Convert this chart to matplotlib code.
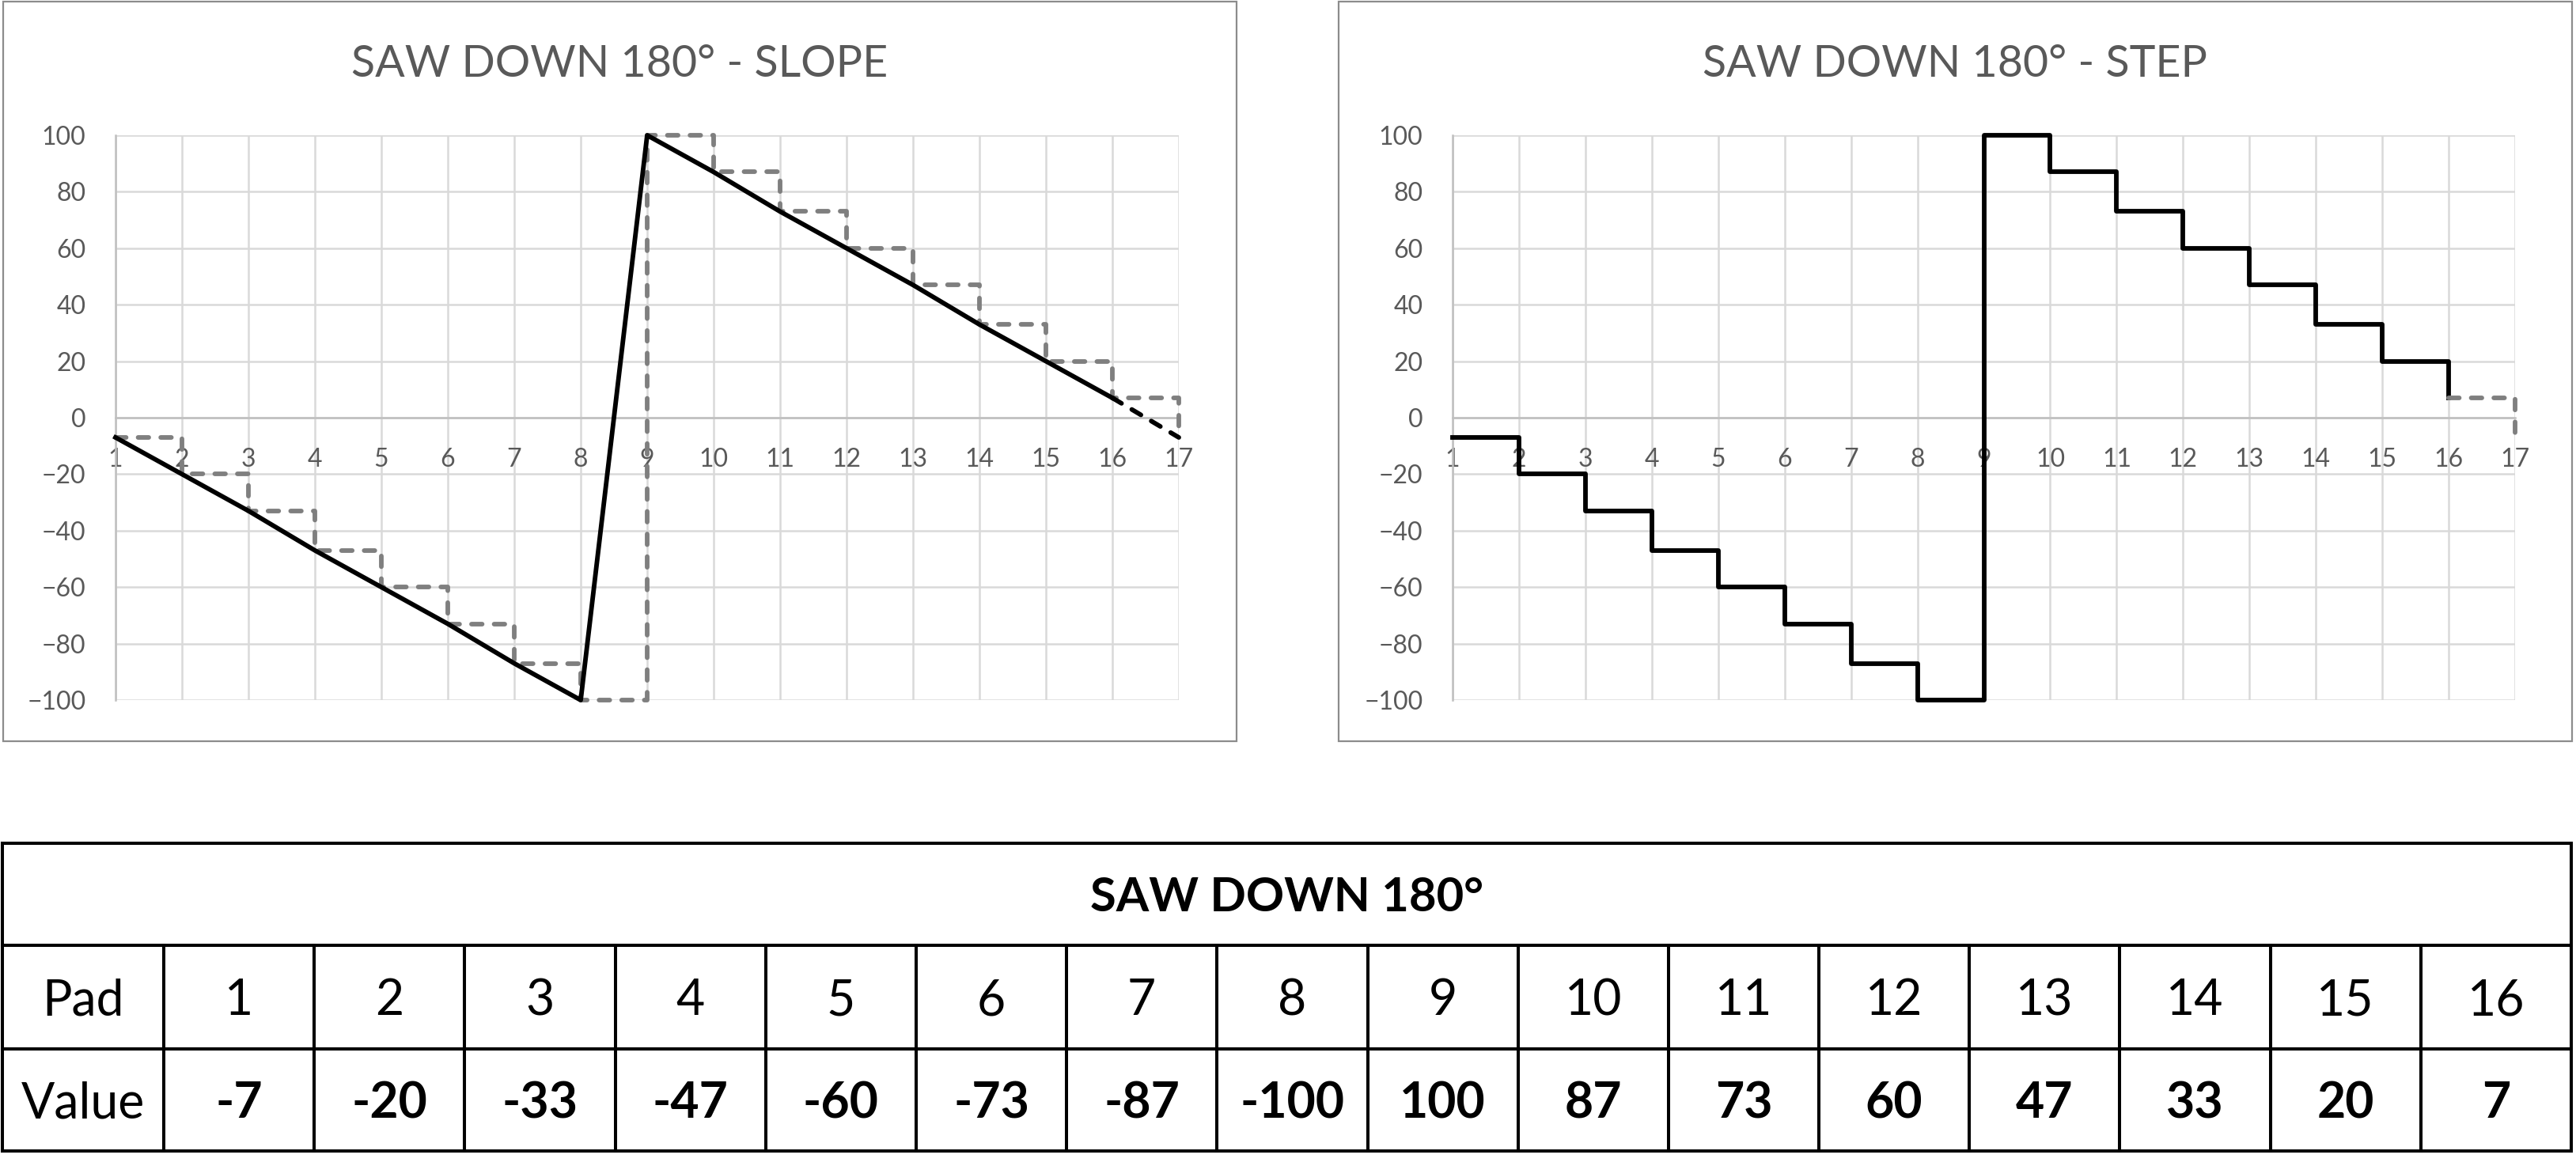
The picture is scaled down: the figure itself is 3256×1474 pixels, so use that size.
import matplotlib
matplotlib.use('Agg')
import matplotlib.pyplot as plt
from matplotlib.patches import Rectangle

# datos
pads = list(range(1, 17))
values = [-7, -20, -33, -47, -60, -73, -87, -100, 100, 87, 73, 60, 47, 33, 20, 7]
x_labels = [str(i) for i in range(1, 18)]
y_ticks = list(range(-100, 101, 20))
chart_titles = ['SAW DOWN 180° - SLOPE', 'SAW DOWN 180° - STEP']
table_title = 'SAW DOWN 180°'
row_names = ['Pad', 'Value']

# vuelta al pad 1 en la posicion 17
x_wrap = pads + [pads[-1] + 1]
v_wrap = values + [values[0]]

############################################################################

W, H = 3256, 1474
DPI = 100
plt.rcParams['font.family'] = ['Lato', 'DejaVu Sans']

GRID = '#d9d9d9'
AXIS = '#bfbfbf'
TXT = '#595959'
GRAY = '#7f7f7f'
LW = 4.2
DASH = (0, (2.3, 2.6))

fig = plt.figure(figsize=(W / DPI, H / DPI), dpi=DPI)

# ejes de fondo en pixeles para cajas y tabla
bg = fig.add_axes([0, 0, 1, 1])
bg.set_xlim(0, W)
bg.set_ylim(H, 0)
bg.axis('off')


def px_axes(l, t, r, b):
    return fig.add_axes([l / W, 1 - b / H, (r - l) / W, (b - t) / H])


boxes = [(4, 2, 1563, 937), (1692, 2, 3251, 937)]
plots = [(146, 171, 1490, 885), (1836, 171, 3179, 885)]


def crear_grafico(box, area, title):
    bg.add_patch(Rectangle((box[0], box[1]), box[2] - box[0], box[3] - box[1],
                           fill=False, ec='#8c8c8c', lw=1.6))
    bg.text((box[0] + box[2]) / 2, 97, title, ha='center', va='baseline',
            fontsize=40, color=TXT)
    ax = px_axes(*area)
    ax.set_xlim(1, 17)
    ax.set_ylim(-100, 100)
    ax.set_xticks(range(1, 18))
    ax.set_xticklabels(x_labels)
    ax.set_yticks(y_ticks)
    ax.grid(True, color=GRID, lw=1.8)
    ax.set_axisbelow(True)
    for s in ax.spines.values():
        s.set_visible(False)
    ax.spines['bottom'].set_position(('data', 0))
    ax.axhline(0, color=AXIS, lw=1.8, zorder=1.5, clip_on=False)
    ax.axvline(1, color=AXIS, lw=1.8, zorder=1.5, clip_on=False)
    ax.tick_params(length=0, labelsize=23, labelcolor=TXT)
    ax.tick_params(axis='x', pad=27)
    ax.tick_params(axis='y', pad=27)
    ax.patch.set_alpha(0)
    return ax


# SLOPE
ax1 = crear_grafico(boxes[0], plots[0], chart_titles[0])
ax1.plot(x_wrap, v_wrap, drawstyle='steps-post', color=GRAY, lw=LW, ls=DASH,
         dash_capstyle='round', clip_on=False)
ax1.plot(pads, values, color='black', lw=LW, clip_on=False)
ax1.plot(x_wrap[-2:], v_wrap[-2:], color='black', lw=LW, ls=DASH,
         dash_capstyle='round', clip_on=False)

# STEP
ax2 = crear_grafico(boxes[1], plots[1], chart_titles[1])
ax2.plot(pads, values, drawstyle='steps-post', color='black', lw=LW, clip_on=False)
ax2.plot(x_wrap[-2:], v_wrap[-2:], drawstyle='steps-post', color=GRAY, lw=LW,
         ls=DASH, dash_capstyle='round', clip_on=False)

############################################################################
# tabla

t_left, t_right = 3, 3250
first_col = 207
row_edges = [1066, 1195, 1326, 1455]
n = len(pads)
col_edges = [t_left, first_col] + [first_col + (t_right - first_col) * (i + 1) / n for i in range(n)]
TLW = 2.9

for y in row_edges:
    bg.plot([t_left, t_right], [y, y], color='black', lw=TLW, solid_capstyle='projecting')
bg.plot([t_left, t_left], [row_edges[0], row_edges[-1]], color='black', lw=TLW)
bg.plot([t_right, t_right], [row_edges[0], row_edges[-1]], color='black', lw=TLW)
for x in col_edges[1:-1]:
    bg.plot([x, x], [row_edges[1], row_edges[-1]], color='black', lw=TLW)

CAP = 45


def baseline(top, bottom):
    return (top + bottom) / 2 + CAP / 2


bg.text((t_left + t_right) / 2, baseline(row_edges[0], row_edges[1]) - 1, table_title,
        ha='center', va='baseline', fontsize=43, fontweight='bold', color='black')

centers = [(col_edges[i] + col_edges[i + 1]) / 2 for i in range(len(col_edges) - 1)]
yb1 = baseline(row_edges[1], row_edges[2])
yb2 = baseline(row_edges[2], row_edges[3])
bg.text(centers[0], yb1, row_names[0], ha='center', va='baseline', fontsize=45, color='black')
bg.text(centers[0], yb2, row_names[1], ha='center', va='baseline', fontsize=45, color='black')
for c, p, v in zip(centers[1:], pads, values):
    bg.text(c, yb1, str(p), ha='center', va='baseline', fontsize=45, color='black')
    bg.text(c, yb2, str(v), ha='center', va='baseline', fontsize=45,
            fontweight='bold', color='black')

fig.savefig('out.png', dpi=DPI, facecolor='white')
